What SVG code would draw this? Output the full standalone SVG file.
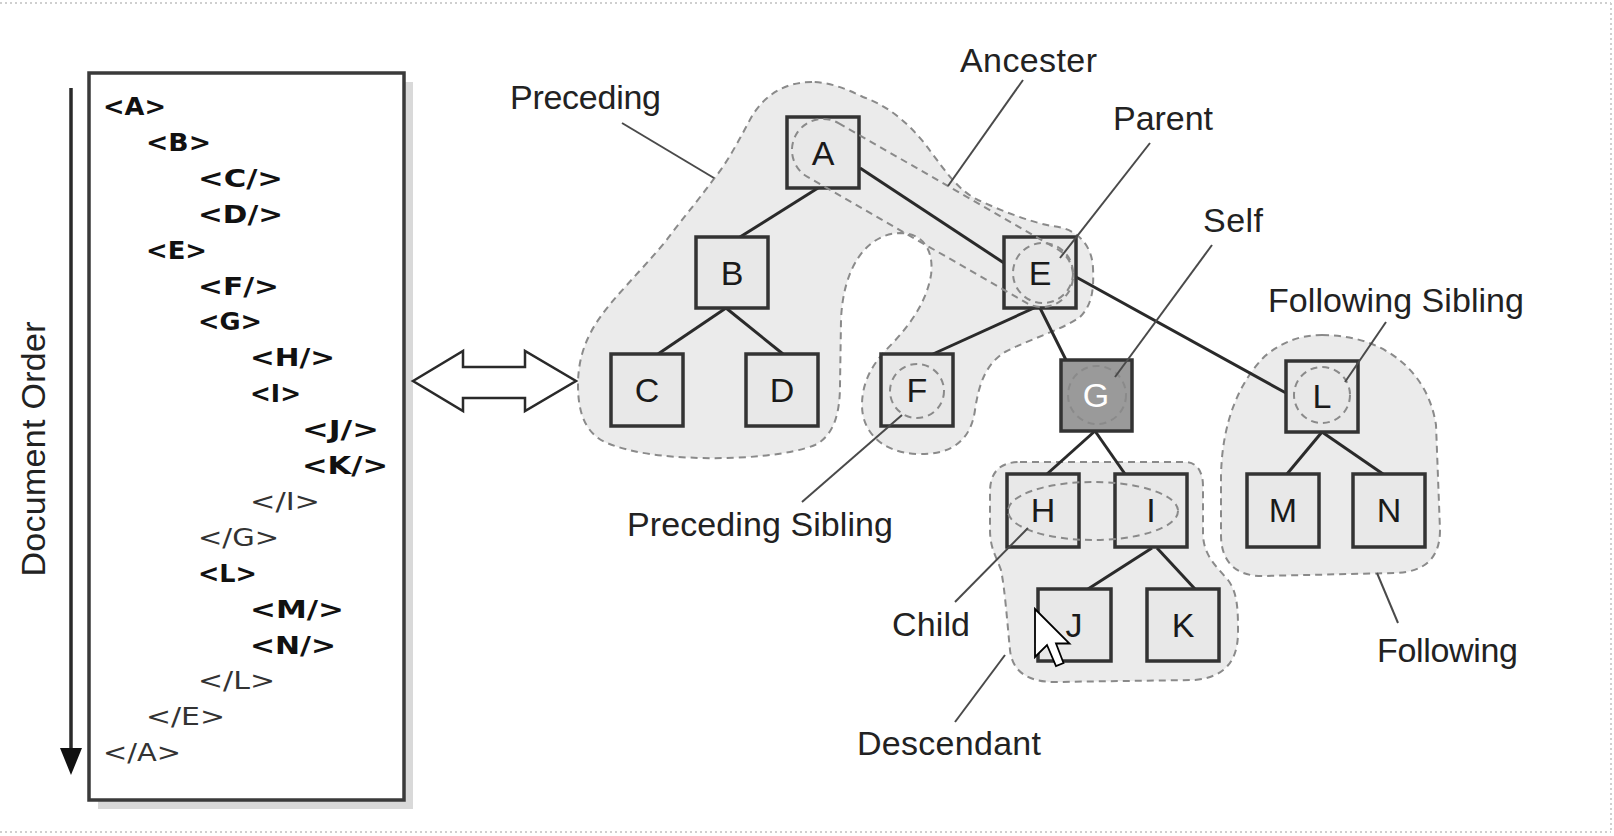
<svg xmlns="http://www.w3.org/2000/svg" width="1614" height="836" viewBox="0 0 1614 836">
  <style>
    .frame { fill: none; stroke: #cfcfcf; stroke-width: 2; stroke-dasharray: 2 3; }
    .region { fill: #ebebeb; stroke: #8a8a8a; stroke-width: 2; stroke-dasharray: 7 5; }
    .axis { fill: none; stroke: #8a8a8a; stroke-width: 2; stroke-dasharray: 7 5; }
    .node rect { fill: #e8e8e8; stroke: #333; stroke-width: 3.5; }
    .node text { font-family: "Liberation Sans", Arial, sans-serif; font-size: 34px; fill: #1a1a1a; text-anchor: middle; }
    #node-G rect { fill: #9a9a9a; }
    #node-G text { fill: #ffffff; }
    .edge { stroke: #2a2a2a; stroke-width: 3; fill: none; }
    .pointer { stroke: #4a4a4a; stroke-width: 2; fill: none; }
    .label { font-family: "Liberation Sans", Arial, sans-serif; font-size: 34px; fill: #222; }
    .open { font-family: "DejaVu Sans", "Liberation Sans", sans-serif; font-size: 24px; font-weight: bold; fill: #111; }
    .close { font-family: "DejaVu Sans", "Liberation Sans", sans-serif; font-size: 24px; fill: #333; }
  </style>

  <!-- dotted page frame -->
  <line class="frame" x1="0" y1="3" x2="1611" y2="3"/>
  <line class="frame" x1="0" y1="832" x2="1611" y2="832"/>
  <line class="frame" x1="1611" y1="3" x2="1611" y2="832"/>

  <!-- document order listing -->
  <g id="listing">
    <rect x="98" y="82" width="315" height="727" fill="#d9d9d9"/>
    <rect x="89" y="73" width="315" height="727" fill="#ffffff" stroke="#3a3a3a" stroke-width="3.5"/>
    <text class="open" x="103" y="115" textLength="63" lengthAdjust="spacingAndGlyphs">&lt;A&gt;</text>
    <text class="open" x="146" y="151" textLength="65" lengthAdjust="spacingAndGlyphs">&lt;B&gt;</text>
    <text class="open" x="198" y="187" textLength="85" lengthAdjust="spacingAndGlyphs">&lt;C/&gt;</text>
    <text class="open" x="198" y="223" textLength="85" lengthAdjust="spacingAndGlyphs">&lt;D/&gt;</text>
    <text class="open" x="146" y="259" textLength="61" lengthAdjust="spacingAndGlyphs">&lt;E&gt;</text>
    <text class="open" x="198" y="295" textLength="81" lengthAdjust="spacingAndGlyphs">&lt;F/&gt;</text>
    <text class="open" x="198" y="330" textLength="64" lengthAdjust="spacingAndGlyphs">&lt;G&gt;</text>
    <text class="open" x="250" y="366" textLength="85" lengthAdjust="spacingAndGlyphs">&lt;H/&gt;</text>
    <text class="open" x="250" y="402" textLength="51" lengthAdjust="spacingAndGlyphs">&lt;I&gt;</text>
    <text class="open" x="302" y="438" textLength="77" lengthAdjust="spacingAndGlyphs">&lt;J/&gt;</text>
    <text class="open" x="302" y="474" textLength="86" lengthAdjust="spacingAndGlyphs">&lt;K/&gt;</text>
    <text class="close" x="250" y="510" textLength="70" lengthAdjust="spacingAndGlyphs">&lt;/I&gt;</text>
    <text class="close" x="198" y="546" textLength="81" lengthAdjust="spacingAndGlyphs">&lt;/G&gt;</text>
    <text class="open" x="198" y="582" textLength="59" lengthAdjust="spacingAndGlyphs">&lt;L&gt;</text>
    <text class="open" x="250" y="618" textLength="94" lengthAdjust="spacingAndGlyphs">&lt;M/&gt;</text>
    <text class="open" x="250" y="654" textLength="86" lengthAdjust="spacingAndGlyphs">&lt;N/&gt;</text>
    <text class="close" x="198" y="689" textLength="77" lengthAdjust="spacingAndGlyphs">&lt;/L&gt;</text>
    <text class="close" x="146" y="725" textLength="79" lengthAdjust="spacingAndGlyphs">&lt;/E&gt;</text>
    <text class="close" x="103" y="761" textLength="78" lengthAdjust="spacingAndGlyphs">&lt;/A&gt;</text>
  </g>

  <!-- document order arrow -->
  <g id="doc-order">
    <line x1="71" y1="88" x2="71" y2="752" stroke="#2a2a2a" stroke-width="3.5"/>
    <polygon points="60,748 82,748 71,775" fill="#111"/>
    <text class="label" transform="translate(45,449) rotate(-90)" text-anchor="middle" textLength="255">Document Order</text>
  </g>

  <!-- equivalence arrow -->
  <g id="equivalence">
    <polygon points="413,381 463,351 463,367 525,367 525,351 576,381 525,411 525,398 463,398 463,411" fill="#ffffff" stroke="#2a2a2a" stroke-width="2.5" stroke-linejoin="miter"/>
  </g>

  <!-- axis regions -->
  <g id="regions">
    <path id="preceding-region" class="region" d="M 812,82 C 785,82 765,95 752,116 C 740,138 728,162 713,180 C 696,203 680,222 665,242 C 640,272 616,295 601,316 C 585,338 578,360 578,385 C 578,414 586,434 607,443 C 632,453 662,457 702,458 C 744,459 790,455 815,445 C 833,436 840,415 840,385 L 841,320 C 843,268 866,234 900,233 C 925,233 934,253 931,275 C 926,305 906,330 886,350 C 870,367 862,385 862,405 C 862,432 882,453 918,454 C 952,455 971,440 975,410 C 979,383 986,364 1005,352 C 1032,338 1062,330 1080,317 C 1092,305 1094,290 1093,268 C 1092,244 1076,228 1052,226 C 1030,222 1002,211 978,200 C 958,190 946,172 931,152 C 914,128 890,106 863,97 C 845,88 828,82 812,82 Z"/>
    <path id="descendant-region" class="region" d="M 1020,462 L 1185,462 C 1197,462 1203,472 1203,486 L 1203,535 C 1204,556 1216,566 1228,580 C 1238,593 1238,612 1238,632 C 1238,662 1224,677 1195,680 L 1055,682 C 1026,682 1012,670 1010,650 C 1007,620 1005,590 1001,570 C 996,556 990,548 990,530 L 990,492 C 990,472 1000,462 1020,462 Z"/>
    <path id="following-region" class="region" d="M 1322,335 C 1385,335 1428,372 1436,425 L 1440,530 C 1440,558 1425,572 1395,573 L 1262,576 C 1236,576 1221,562 1221,535 L 1221,476 C 1222,421 1240,381 1265,356 C 1282,342 1300,335 1322,335 Z"/>
  </g>

  <!-- tree connectors -->
  <g id="connectors">
    <line class="edge" x1="818" y1="188" x2="740" y2="237"/>
    <line class="edge" x1="860" y1="168" x2="1004" y2="263"/>
    <line class="edge" x1="726" y1="308" x2="658" y2="354"/>
    <line class="edge" x1="726" y1="308" x2="783" y2="354"/>
    <line class="edge" x1="1034" y1="308" x2="933" y2="354"/>
    <line class="edge" x1="1040" y1="308" x2="1066" y2="360"/>
    <line class="edge" x1="1076" y1="277" x2="1286" y2="393"/>
    <line class="edge" x1="1095" y1="431" x2="1047" y2="474"/>
    <line class="edge" x1="1095" y1="431" x2="1125" y2="474"/>
    <line class="edge" x1="1152" y1="548" x2="1088" y2="589"/>
    <line class="edge" x1="1157" y1="548" x2="1195" y2="589"/>
    <line class="edge" x1="1322" y1="432" x2="1287" y2="474"/>
    <line class="edge" x1="1322" y1="432" x2="1383" y2="474"/>
  </g>

  <!-- tree nodes -->
  <g id="node-A" class="node"><rect x="787" y="117" width="72" height="71"/><text x="823" y="165">A</text></g>
  <g id="node-B" class="node"><rect x="696" y="237" width="72" height="71"/><text x="732" y="285">B</text></g>
  <g id="node-C" class="node"><rect x="611" y="354" width="72" height="72"/><text x="647" y="402">C</text></g>
  <g id="node-D" class="node"><rect x="746" y="354" width="72" height="72"/><text x="782" y="402">D</text></g>
  <g id="node-E" class="node"><rect x="1004" y="237" width="72" height="71"/><text x="1040" y="285">E</text></g>
  <g id="node-F" class="node"><rect x="881" y="354" width="72" height="72"/><text x="917" y="402">F</text></g>
  <g id="node-G" class="node"><rect x="1061" y="360" width="71" height="71"/><text x="1096" y="407">G</text></g>
  <g id="node-L" class="node"><rect x="1286" y="361" width="72" height="71"/><text x="1322" y="408">L</text></g>
  <g id="node-H" class="node"><rect x="1007" y="474" width="72" height="73"/><text x="1043" y="522">H</text></g>
  <g id="node-I" class="node"><rect x="1115" y="474" width="72" height="73"/><text x="1151" y="522">I</text></g>
  <g id="node-J" class="node"><rect x="1038" y="589" width="73" height="72"/><text x="1074" y="637">J</text></g>
  <g id="node-K" class="node"><rect x="1147" y="589" width="72" height="72"/><text x="1183" y="637">K</text></g>
  <g id="node-M" class="node"><rect x="1247" y="474" width="72" height="73"/><text x="1283" y="522">M</text></g>
  <g id="node-N" class="node"><rect x="1353" y="474" width="72" height="73"/><text x="1389" y="522">N</text></g>

  <!-- axis marks drawn over the nodes -->
  <g id="axis-marks">
    <path id="ancestor-band" class="axis" d="M 838.5,123.1 L 1057.5,249.1 A 31 31 0 0 1 1026.5,302.9 L 807.5,176.9 A 31 31 0 0 1 838.5,123.1 Z"/>
    <circle class="axis" cx="1043" cy="273" r="30"/>
    <circle class="axis" cx="917" cy="391" r="27"/>
    <circle class="axis" cx="1097" cy="395" r="29"/>
    <circle class="axis" cx="1322" cy="395" r="28"/>
    <ellipse class="axis" cx="1093" cy="511" rx="85" ry="29"/>
  </g>

  <!-- axis labels and their leader lines -->
  <g id="labels">
    <line class="pointer" x1="622" y1="123" x2="714" y2="178"/>
    <text class="label" x="510" y="109" textLength="151">Preceding</text>
    <line class="pointer" x1="1023" y1="80" x2="948" y2="186"/>
    <text class="label" x="960" y="72" textLength="137">Ancester</text>
    <line class="pointer" x1="1150" y1="143" x2="1060" y2="258"/>
    <text class="label" x="1113" y="130" textLength="100">Parent</text>
    <line class="pointer" x1="1212" y1="245" x2="1115" y2="377"/>
    <text class="label" x="1203" y="232" textLength="60">Self</text>
    <line class="pointer" x1="1386" y1="322" x2="1345" y2="382"/>
    <text class="label" x="1268" y="312" textLength="256">Following Sibling</text>
    <line class="pointer" x1="802" y1="502" x2="902" y2="415"/>
    <text class="label" x="627" y="536" textLength="266">Preceding Sibling</text>
    <line class="pointer" x1="955" y1="602" x2="1028" y2="528"/>
    <text class="label" x="892" y="636" textLength="78">Child</text>
    <line class="pointer" x1="1005" y1="655" x2="955" y2="722"/>
    <text class="label" x="857" y="755" textLength="184">Descendant</text>
    <line class="pointer" x1="1377" y1="573" x2="1398" y2="623"/>
    <text class="label" x="1377" y="662" textLength="141">Following</text>
  </g>

  <!-- mouse pointer -->
  <path id="cursor" transform="translate(1035,609) scale(3)" d="M0,0 L0,16 L4,12 L7,19 L9.5,18 L7,11.5 L11.5,11.5 Z" fill="#ffffff" stroke="#000" stroke-width="0.6" stroke-linejoin="miter"/>
</svg>
